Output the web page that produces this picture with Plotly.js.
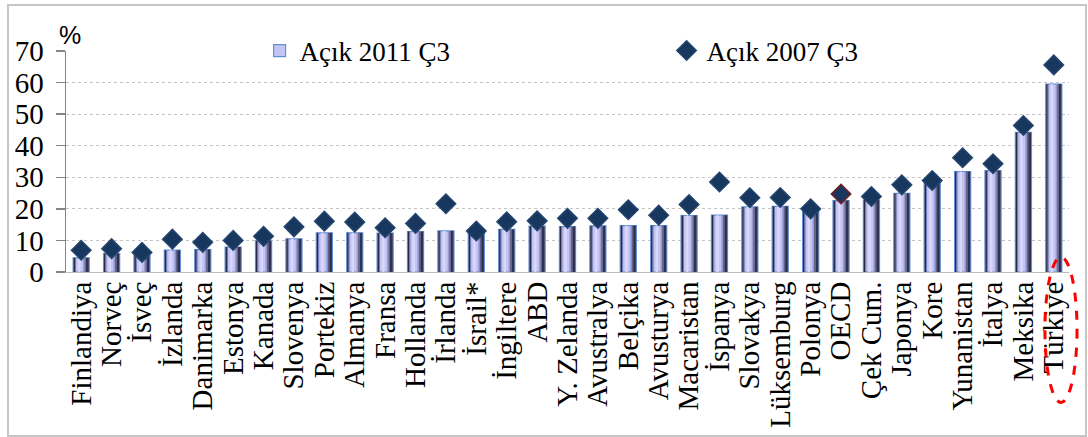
<!DOCTYPE html>
<html>
<head>
<meta charset="utf-8">
<script src="https://cdn.plot.ly/plotly-3.0.1.min.js"></script>
<style>
  html, body { margin: 0; padding: 0; background: #fff; }
  #wrap { position: relative; width: 1088px; height: 437px; }
  #chart { width: 1088px; height: 437px; }
  #frame { position: absolute; left: 7px; top: 4px; width: 1076px; height: 429px;
           border: 2px solid #c6c6c6; pointer-events: none; }
</style>
</head>
<body>
<div id="wrap"><div id="chart"></div><div id="frame"></div></div>
<script>
const categories = ["Finlandiya","Norveç","İsveç","İzlanda","Danimarka","Estonya","Kanada","Slovenya",
  "Portekiz","Almanya","Fransa","Hollanda","İrlanda","İsrail*","İngiltere","ABD","Y. Zelanda",
  "Avustralya","Belçika","Avusturya","Macaristan","İspanya","Slovakya","Lüksemburg","Polonya",
  "OECD","Çek Cum.","Japonya","Kore","Yunanistan","İtalya","Meksika","Türkiye"];
const gap2011 = [4.5,5.8,5.3,6.9,7.1,7.9,9.9,10.5,12.4,12.4,12.3,12.8,13.0,12.6,13.5,14.5,14.4,
  14.6,14.7,14.7,17.9,18.0,20.6,20.8,19.3,22.6,22.8,24.9,28.2,31.8,32.1,44.2,59.5];
const gap2007 = [6.9,7.4,6.2,10.4,9.4,10.0,11.3,14.3,16.1,15.8,14.0,15.4,21.6,13.0,15.9,16.2,17.0,
  17.0,19.7,18.0,21.4,28.5,23.5,23.6,20.0,24.7,23.9,27.6,29.0,36.2,34.3,46.4,65.6];
const name2011 = "Açık 2011 Ç3";
const name2007 = "Açık 2007 Ç3";
const yTicks = [0,10,20,30,40,50,60,70];

const serif = "Liberation Serif, Times New Roman, serif";
const BW = 0.53;

// base bar (legend entry)
const traces = [{
  type: "bar", x: categories, y: gap2011, name: name2011, width: BW,
  marker: { color: "#c5c5f3", line: { color: "#5f8fd4", width: 1.2 } },
  hoverinfo: "skip"
}];
// shading strips to imitate the cylindrical gradient
const strips = [
  [-0.25, 0.05, "#262a45"],
  [-0.20, 0.03, "#6f72a6"],
  [-0.10, 0.08, "#d8d8ff"],
  [0.06, 0.05, "#9a9cd0"],
  [0.11, 0.05, "#62648a"],
  [0.16, 0.09, "#2f3250"]
];
strips.forEach(s => traces.push({
  type: "bar", x: categories, y: gap2011, offset: s[0], width: s[1],
  marker: { color: s[2], line: { width: 0 } }, showlegend: false, hoverinfo: "skip"
}));
traces.push({
  type: "scatter", mode: "markers", x: categories, y: gap2007, name: name2007,
  marker: { symbol: "diamond", size: 15, color: "#17375e",
    line: { width: 1.5, color: categories.map(c => c === "OECD" ? "#7a1e1e" : "#24456e") } },
  hoverinfo: "skip"
});

const layout = {
  width: 1088, height: 437, autosize: false,
  margin: { l: 66, r: 19, t: 51, b: 165, pad: 0 },
  paper_bgcolor: "#ffffff", plot_bgcolor: "#ffffff",
  barmode: "overlay",
  font: { family: serif, color: "#000" },
  showlegend: true,
  legend: {
    orientation: "h", x: 0.193, xanchor: "left", y: 1.0, yanchor: "middle",
    bgcolor: "rgba(255,255,255,0)", font: { family: serif, size: 27, color: "#000" },
    entrywidth: 362, entrywidthmode: "pixels", traceorder: "normal"
  },
  xaxis: {
    type: "category", tickmode: "array", tickvals: categories, ticktext: categories,
    showgrid: false, showline: true, linecolor: "#bdbdbd", linewidth: 1,
    ticks: "", tickangle: -90, tickfont: { family: serif, size: 29, color: "#000" },
    range: [-0.5, categories.length - 0.5], fixedrange: true, ticklabelstandoff: -3
  },
  yaxis: {
    range: [0, 70], tickmode: "array", tickvals: yTicks, ticktext: yTicks.map(String),
    showgrid: true, gridcolor: "#c4c4c4", griddash: "dot", gridwidth: 1,
    zeroline: false, showline: true, linecolor: "#858585", linewidth: 1.5,
    ticks: "outside", ticklen: 9, tickcolor: "#858585", tickwidth: 1.5,
    tickfont: { family: serif, size: 29, color: "#000" }, ticklabelstandoff: 6, fixedrange: true
  },
  annotations: [{
    text: "%", xref: "paper", yref: "paper", x: -0.009, y: 1.072, xanchor: "left", yanchor: "middle",
    showarrow: false, font: { family: "Liberation Sans, Arial, sans-serif", size: 25, color: "#000" }
  }],
  shapes: [{
    type: "circle", xref: "paper", yref: "paper", x0: 0.976, x1: 1.008, y0: -0.59, y1: 0.067,
    line: { color: "#ff0000", width: 3, dash: "dash" }, fillcolor: "rgba(0,0,0,0)", layer: "above"
  }]
};

Plotly.newPlot("chart", traces, layout, { staticPlot: true, displayModeBar: false });
</script>
</body>
</html>
